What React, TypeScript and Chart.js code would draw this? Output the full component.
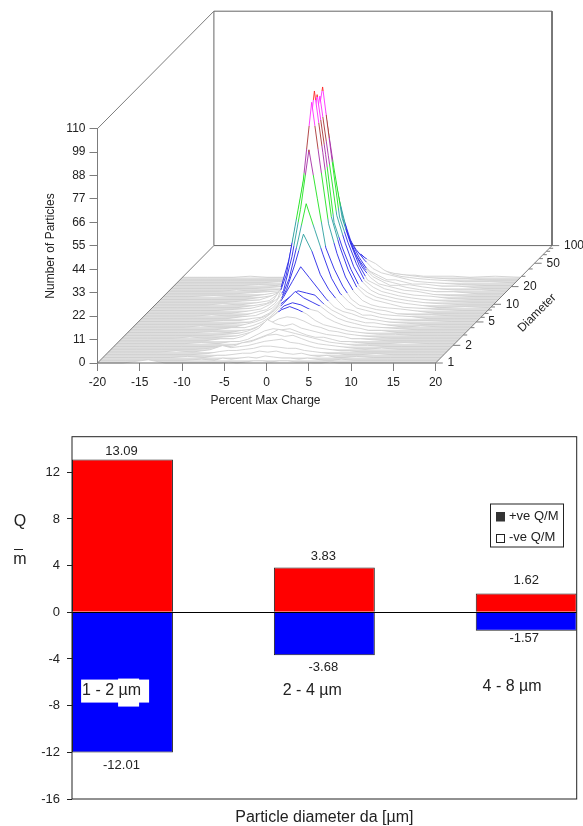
import React, { useEffect, useRef } from "react";
import { Chart, registerables } from "chart.js";

Chart.register(...registerables);

const FONT = "'Liberation Sans', Arial, sans-serif";

// ---- Waterfall data ----
const chargeBins = [-20, -17, -14, -12, -10, -8, -6.5, -5.5, -4.5, -3.5, -2.5, -1.5, -0.5, 0.5, 1.5, 2.5, 3.5, 4.5, 5.5, 6.5, 7.5, 8.5, 10, 12, 14, 17, 20];
// rows run front (small diameter) to back (large diameter)
const particleCounts = [
  [0, 0, 1.5, 0, 0, 0, 0, 0, 0.5, 0, 0.5, 1, 1, 0.5, 1, 1, 0.5, 0.5, 0, 0, 0.5, 0, 0, 0, 0, 0, 0],
  [0, 0, 0, 0, 0, 0.5, 0, 1, 0.5, 1, 1.5, 1, 2, 1.5, 1, 1, 0.5, 1, 0.5, 0, 0, 0.5, 0, 0, 0, 0, 0],
  [0, 0, 0, 0, 0.5, 0, 1, 1, 1.5, 2, 2, 3, 2.5, 3, 2, 1.5, 2, 1, 0.5, 1, 0, 0, 0.5, 0, 0, 0, 0],
  [0, 0, 0, 0, 0, 0.5, 1.5, 2, 2, 2.5, 3, 4, 4, 3.5, 3, 3, 2, 1.5, 1, 0.5, 0.5, 0, 0, 0.5, 0, 0, 0],
  [0, 0, 0, 0.5, 0, 1, 3, 2, 2.5, 3, 4, 5, 5.5, 6, 4.5, 4, 3, 2, 1.5, 1, 0.5, 0.5, 0, 0, 0, 0, 0],
  [0, 0, 0, 0, 0, 0.5, 1, 1.5, 3, 3.5, 5, 6.5, 7, 6, 6.5, 5, 3.5, 2.5, 2, 1.5, 1, 0.5, 0, 0.5, 0, 0, 0],
  [0, 0, 0, 0, 0, 0, 0.5, 1, 2, 3, 4.5, 6, 8, 7, 6, 5, 4, 3, 2, 1.5, 1, 0.5, 0.5, 0, 0, 0, 0],
  [0, 0, 0, 0, 0.5, 0, 1, 1, 2, 4, 6, 7, 6.5, 7, 5.5, 4, 3, 3, 2, 1, 1, 0.5, 0, 0, 0.5, 0, 0],
  [0, 0, 0, 0, 0, 1, 1, 2, 4, 6, 10, 8, 7, 8, 6, 5, 4, 3, 2.5, 2, 1, 1, 0.5, 0, 0, 0, 0],
  [0, 0, 0, 0.5, 0, 0.5, 1, 2, 3, 5, 7, 9, 10, 9.5, 8, 6, 5, 3.5, 3, 2, 1.5, 1, 0.5, 0, 0, 0, 0],
  [0, 0, 0, 0, 0, 0.5, 1, 2, 3.5, 6, 9, 12, 13.5, 12, 10, 7, 5, 4, 3, 2, 1.5, 1, 0.5, 0.5, 0, 0, 0],
  [0, 0, 0, 0, 0.5, 0, 1, 1.5, 3, 5.5, 9, 12.5, 14, 13, 11, 10, 7, 5, 3.5, 2.5, 2, 1, 1, 0, 0, 0, 0],
  [0, 0, 0, 0, 0, 1, 1, 2, 3.5, 6, 10, 14, 18, 15, 13, 11, 8, 5.5, 4, 3, 2, 1.5, 1, 0.5, 0, 0, 0],
  [0, 0, 0, 0.5, 0, 0, 1.5, 2.5, 4, 7, 11, 14, 17, 16, 15, 11, 8, 6, 4, 3, 2, 2, 1, 0, 0.5, 0, 0],
  [0, 0, 0, 0, 0, 0.5, 1, 2.5, 4, 7, 13, 20, 27, 22, 17, 12, 8, 6, 5, 3.5, 2.5, 2, 1, 0.5, 0, 0, 0],
  [0, 0, 0, 0, 0.5, 0.5, 1.5, 2, 4, 8, 15, 27, 41, 33, 22, 15, 10, 6, 5, 3, 3, 2, 1, 0.5, 0.5, 0, 0],
  [0, 0, 0, 0, 0, 1, 1.5, 3, 5, 9, 19, 36, 54, 42, 30, 19, 12, 8, 5, 4, 3, 2, 1.5, 1, 0, 0, 0],
  [0, 0, 0, 0.5, 0, 0.5, 2, 3, 6, 12, 28, 50, 78, 55, 32, 22, 14, 8, 5, 4, 3, 2.5, 1, 0.5, 0.5, 0, 0],
  [0, 0, 0, 0, 0, 1, 2, 4, 7, 18, 40, 62, 99, 70, 42, 28, 17, 10, 6, 4, 3, 2.5, 2, 1, 0, 0, 0],
  [0, 0, 0, 0, 0.5, 1, 2.5, 4, 10, 24, 44, 68, 103, 74, 44, 30, 19, 11, 7, 5, 4, 3, 1.5, 1, 0.5, 0, 0],
  [0, 0, 0, 0, 0, 1, 2, 4, 10, 22, 42, 72, 100, 72, 40, 28, 18, 10, 7, 5, 4, 3, 2, 1, 0, 0.5, 0],
  [0, 0, 0, 0.5, 0, 1, 2, 5, 10, 22, 44, 74, 98, 70, 42, 29, 18, 11, 7, 5, 4, 3, 2, 1, 0.5, 0, 0],
  [0, 0, 0, 0, 0.5, 1, 3, 5, 11, 22, 44, 76, 101, 70, 40, 28, 18, 10, 7, 5, 4, 3, 2, 1, 0.5, 0, 0],
  [0, 0, 0, 0, 0, 1, 2, 5, 10, 20, 40, 66, 88, 62, 38, 26, 16, 9, 7, 5, 4, 3, 2, 1.5, 0.5, 0, 0],
  [0, 0, 0.5, 0, 0, 1, 2, 4, 9, 16, 32, 50, 72, 52, 32, 22, 14, 9, 6, 5, 4, 3, 2.5, 1, 0.5, 0, 0],
  [0, 0, 0, 0, 0.5, 1, 1.5, 3, 6, 12, 24, 42, 60, 44, 28, 18, 12, 8, 6, 4, 4, 3, 2, 1, 1, 0, 0],
  [0, 0, 0, 0.5, 0, 0.5, 1, 2, 5, 9, 18, 32, 50, 36, 24, 16, 10, 7, 5, 4, 3, 3, 2, 1, 0.5, 0.5, 0],
  [0, 0, 0, 0, 0, 0.5, 1, 2, 4, 7, 13, 24, 39, 28, 18, 12, 8, 6, 4, 4, 3, 2, 2, 1, 1, 0, 0],
  [0, 0, 0, 0, 0.5, 0, 1, 1.5, 3, 5, 9, 16, 28, 23, 17, 12, 8, 6, 5, 4, 3, 2, 1.5, 1, 0.5, 0, 0],
  [0, 0, 0, 0, 0, 0.5, 0.5, 1, 2, 3, 6, 10, 20, 17, 14, 11, 9, 6, 4, 3, 2.5, 2, 1.5, 1, 0.5, 0.5, 0],
  [0, 0, 0, 0, 0, 0, 0.5, 0.5, 1, 2, 3, 5, 8, 9, 12, 8, 5, 4, 3, 2.5, 2, 1.5, 1, 0.5, 0.5, 0, 0],
  [0, 0, 0, 0.5, 0, 0, 0.5, 1, 1, 1.5, 2, 2, 3, 3, 4, 3, 2, 2, 1.5, 1, 1, 0.5, 0.5, 0.5, 0, 0.5, 0],
];
const lastRowDepth = 0.73;
const chargeTicks = [-20, -15, -10, -5, 0, 5, 10, 15, 20];
const countTicks = [0, 11, 22, 33, 44, 55, 66, 77, 88, 99, 110];
const diameterMajor = [1, 2, 5, 10, 20, 50, 100];
const diameterMinor = [3, 4, 6, 7, 8, 9, 30, 40, 60, 70, 80, 90];
const colorBands: [number, number, string][] = [
  [0, 11, "#cdcdcd"],
  [11, 33, "#1a1ae6"],
  [33, 44, "#1f9a9a"],
  [44, 66, "#12e012"],
  [66, 77, "#a020a0"],
  [77, 88, "#a52a2a"],
  [88, 99, "#ff20ff"],
  [99, 110, "#ff2020"],
];

// ---- Bar chart data ----
const sizeClasses = ["1 - 2 \u00b5m", "2 - 4 \u00b5m", "4 - 8 \u00b5m"];
const positions = [0, 1, 2];
const positiveQM = [13.09, 3.83, 1.62];
const negativeQM = [-12.01, -3.68, -1.57];
const qmTicks = [-16, -12, -8, -4, 0, 4, 8, 12];

// Oblique projection of the 3D box onto the chart's two linear scales
const X_MIN = -20, X_MAX = 20, Z_MAX = 110;
const SHIFT_X = 13.77;
const SHIFT_Z = 55.1;
const proj = (x: number, depth: number, z: number) => ({ x: x + depth * SHIFT_X, y: z + depth * SHIFT_Z });
const depthOf = (d: number) => Math.log10(d) / 2;

const edge = (pts: { x: number; y: number }[], color = "#7c7c7c", order = 0, width = 1) => ({
  type: "line",
  data: pts,
  borderColor: color,
  borderWidth: width,
  pointRadius: 0,
  tension: 0,
  fill: false,
  clip: false,
  order,
});

function bandGradient(ctx: any, base: number) {
  const chart = ctx.chart;
  const ys = chart.scales.y;
  const y0 = ys ? ys.getPixelForValue(base) : NaN;
  const y1 = ys ? ys.getPixelForValue(base + Z_MAX) : NaN;
  if (!Number.isFinite(y0) || !Number.isFinite(y1)) return colorBands[0][2];
  const g = chart.ctx.createLinearGradient(0, y0, 0, y1);
  colorBands.forEach(([a, b, c]) => {
    g.addColorStop(a / Z_MAX, c);
    g.addColorStop(b / Z_MAX, c);
  });
  return g;
}

const waterfallText = {
  id: "waterfallText",
  afterDraw(chart: any) {
    const { ctx, scales } = chart;
    ctx.save();
    ctx.fillStyle = "#222";
    ctx.font = `12px ${FONT}`;
    ctx.textBaseline = "middle";
    ctx.textAlign = "center";
    ctx.fillText("Percent Max Charge", 265.5, 401);
    ctx.save();
    ctx.translate(50.5, 246);
    ctx.rotate(-Math.PI / 2);
    ctx.fillText("Number of Particles", 0, 0);
    ctx.restore();
    ctx.save();
    ctx.translate(537, 313);
    ctx.rotate(-Math.PI / 4);
    ctx.fillText("Diameter", 0, 0);
    ctx.restore();
    ctx.textAlign = "left";
    diameterMajor.forEach((d) => {
      const p = proj(X_MAX, depthOf(d), 0);
      ctx.fillText(String(d), scales.x.getPixelForValue(p.x) + 12, scales.y.getPixelForValue(p.y));
    });
    ctx.restore();
  },
};

const labelOffsets = [
  [-8, 13],
  [-11.5, 12],
  [-12.5, 8],
];
const labelPositions = [
  [-0.2, -6.75],
  [0.794, -6.75],
  [1.784, -6.35],
];

const barText = {
  id: "barText",
  afterDraw(chart: any) {
    const { ctx, scales, chartArea: a } = chart;
    const X = scales.x, Y = scales.y;
    ctx.save();
    // frame
    ctx.strokeStyle = "#222";
    ctx.lineWidth = 1;
    ctx.strokeRect(a.left, a.top, a.right - a.left, a.bottom - a.top);
    ctx.fillStyle = "#222";
    ctx.textBaseline = "middle";
    ctx.textAlign = "center";
    ctx.font = `13px ${FONT}`;
    positiveQM.forEach((v, i) => {
      ctx.fillText(v.toFixed(2), X.getPixelForValue(i) - (i === 2 ? 0 : 1), Y.getPixelForValue(v) + labelOffsets[i][0]);
    });
    negativeQM.forEach((v, i) => {
      ctx.fillText(v.toFixed(2), X.getPixelForValue(i) - (i === 2 ? 2 : 1), Y.getPixelForValue(v) + labelOffsets[i][1]);
    });
    // size class captions
    sizeClasses.forEach((label, i) => {
      const px = X.getPixelForValue(labelPositions[i][0]);
      const py = Y.getPixelForValue(labelPositions[i][1]);
      if (i === 0) {
        ctx.fillStyle = "#fff";
        ctx.fillRect(px - 1, py - 11.5, 68, 23);
        ctx.fillRect(px + 36, py - 12.5, 21, 28);
      }
      ctx.fillStyle = "#222";
      ctx.textAlign = "left";
      ctx.font = `16px ${FONT}`;
      ctx.fillText(label, px, py);
    });
    // legend box
    const lx = 490.5, ly = 84, lw = 73, lh = 43;
    ctx.fillStyle = "#fff";
    ctx.fillRect(lx, ly, lw, lh);
    ctx.strokeStyle = "#222";
    ctx.strokeRect(lx, ly, lw, lh);
    ctx.fillStyle = "#333";
    ctx.fillRect(496, 92, 9, 9.5);
    ctx.fillStyle = "#fff";
    ctx.strokeRect(496.5, 114.5, 8, 8);
    ctx.fillStyle = "#222";
    ctx.font = `13px ${FONT}`;
    ctx.textAlign = "left";
    ctx.fillText(chart.data.datasets[0].label, 509, 96);
    ctx.fillText(chart.data.datasets[1].label, 509, 117);
    // y title
    ctx.textAlign = "center";
    ctx.font = `16px ${FONT}`;
    ctx.fillText("Q", 20, 102);
    ctx.fillText("m", 20, 140);
    ctx.beginPath();
    ctx.moveTo(14, 129.5);
    ctx.lineTo(23, 129.5);
    ctx.stroke();
    ctx.restore();
  },
};

export default function App() {
  const topRef = useRef<HTMLCanvasElement>(null);
  const botRef = useRef<HTMLCanvasElement>(null);

  useEffect(() => {
    const rowCount = particleCounts.length;
    const curves = particleCounts.map((row, i) => {
      const depth = (i / (rowCount - 1)) * lastRowDepth;
      const base = depth * SHIFT_Z;
      return {
        type: "line",
        label: `row ${i + 1}`,
        data: row.map((z, j) => proj(chargeBins[j], depth, z)),
        borderColor: (ctx: any) => bandGradient(ctx, base),
        borderWidth: 0.85,
        pointRadius: 0,
        tension: 0,
        fill: { value: base },
        backgroundColor: "#fff",
        clip: false,
        order: 5,
      };
    });

    const floor = {
      type: "line",
      data: [
        proj(X_MIN, 0, 0),
        proj(X_MAX, 0, 0),
        proj(X_MAX, lastRowDepth, 0),
        proj(X_MIN, lastRowDepth, 0),
        proj(X_MIN, 0, 0),
      ],
      borderWidth: 0,
      pointRadius: 0,
      tension: 0,
      fill: "shape",
      backgroundColor: "#dedede",
      order: 6,
    };

    const frontEdges = [
      edge([proj(X_MIN, 0, 0), proj(X_MAX, 0, 0)], "#666", 1),
      edge([proj(X_MIN, 0, 0), proj(X_MIN, 1, 0)], "#7c7c7c", 1),
      edge([proj(X_MAX, 0, 0), proj(X_MAX, 1, 0)], "#7c7c7c", 1),
      edge([proj(X_MIN, 0, 0), proj(X_MIN, 0, Z_MAX), proj(X_MIN, 1, Z_MAX)], "#7c7c7c", 1),
    ];
    const wall = edge(
      [proj(X_MIN, 1, 0), proj(X_MIN, 1, Z_MAX), proj(X_MAX, 1, Z_MAX), proj(X_MAX, 1, 0), proj(X_MIN, 1, 0)],
      "#666",
      7
    );
    const majorTicks = diameterMajor.map((d) =>
      edge([proj(X_MAX, depthOf(d), 0), proj(X_MAX + 0.85, depthOf(d), 0)], "#7c7c7c", 1)
    );
    const minorTicks = diameterMinor.map((d) =>
      edge([proj(X_MAX, depthOf(d), 0), proj(X_MAX + 0.45, depthOf(d), 0)], "#7c7c7c", 1)
    );

    const top = new Chart(topRef.current as any, {
      type: "line",
      data: { datasets: [...frontEdges, ...majorTicks, ...minorTicks, ...curves, floor, wall] as any },
      options: {
        animation: false,
        responsive: false,
        devicePixelRatio: 1,
        layout: { padding: { left: 0, right: 31, top: 10, bottom: 0 } },
        plugins: { legend: { display: false }, tooltip: { enabled: false }, filler: { drawTime: "beforeDatasetDraw" } },
        scales: {
          x: {
            type: "linear",
            min: X_MIN,
            max: X_MAX + SHIFT_X,
            afterBuildTicks: (axis: any) => {
              axis.ticks = chargeTicks.map((value) => ({ value }));
            },
            afterFit: (s: any) => {
              s.height = 57;
            },
            ticks: { autoSkip: false, maxRotation: 0, padding: 4, color: "#222", font: { family: FONT, size: 12 }, callback: (v: any) => String(v) },
            grid: { drawOnChartArea: false, color: "#7c7c7c", tickLength: 8 },
            border: { display: false },
          },
          y: {
            type: "linear",
            min: 0,
            max: Z_MAX + SHIFT_Z,
            afterBuildTicks: (axis: any) => {
              axis.ticks = countTicks.map((value) => ({ value }));
            },
            afterFit: (s: any) => {
              s.width = 97.5;
            },
            ticks: { autoSkip: false, padding: 4, color: "#222", font: { family: FONT, size: 12 }, callback: (v: any) => String(v) },
            grid: { drawOnChartArea: false, color: "#7c7c7c", tickLength: 8 },
            border: { display: false },
          },
        },
      } as any,
      plugins: [waterfallText],
    });

    const bot = new Chart(botRef.current as any, {
      type: "bar",
      data: {
        datasets: [
          {
            label: "+ve Q/M",
            data: positiveQM.map((y, i) => ({ x: positions[i], y })),
            backgroundColor: "#ff0000",
            borderColor: "#222",
            borderWidth: 1,
            grouped: false,
            barPercentage: 0.5,
            categoryPercentage: 1,
          },
          {
            label: "-ve Q/M",
            data: negativeQM.map((y, i) => ({ x: positions[i], y })),
            backgroundColor: "#0000ff",
            borderColor: "#222",
            borderWidth: 1,
            grouped: false,
            barPercentage: 0.5,
            categoryPercentage: 1,
          },
        ] as any,
      },
      options: {
        animation: false,
        responsive: false,
        devicePixelRatio: 1,
        layout: { padding: { left: 0, right: 6.3, top: 16.7, bottom: 0 } },
        plugins: { legend: { display: false }, tooltip: { enabled: false } },
        scales: {
          x: {
            type: "linear",
            offset: false,
            min: -0.25,
            max: 2.25,
            afterBuildTicks: (axis: any) => {
              axis.ticks = positions.map((value) => ({ value }));
            },
            afterFit: (s: any) => {
              s.height = 27;
            },
            ticks: { display: false },
            grid: { display: false },
            border: { display: false },
            title: {
              display: true,
              text: "Particle diameter da [\u00b5m]",
              color: "#222",
              padding: 0,
              font: { family: FONT, size: 16, lineHeight: 1 },
            },
          },
          y: {
            type: "linear",
            min: -16,
            max: 15.05,
            afterBuildTicks: (axis: any) => {
              axis.ticks = qmTicks.map((value) => ({ value }));
            },
            afterFit: (s: any) => {
              s.width = 72;
            },
            ticks: { autoSkip: false, padding: 7, color: "#222", font: { family: FONT, size: 13 }, callback: (v: any) => String(v) },
            grid: {
              z: 1,
              color: (c: any) => (c.tick && c.tick.value === 0 ? "#000" : "rgba(0,0,0,0)"),
              tickColor: "#222",
              tickLength: 5,
            },
            border: { display: false },
          },
        },
      } as any,
      plugins: [barText],
    });

    return () => {
      top.destroy();
      bot.destroy();
    };
  }, []);

  return (
    <div style={{ position: "absolute", left: 0, top: 0, width: 583, height: 826, background: "#fff", overflow: "hidden" }}>
      <canvas ref={topRef} width={583} height={420} style={{ position: "absolute", left: 0, top: 0, display: "block" }} />
      <canvas ref={botRef} width={583} height={406} style={{ position: "absolute", left: 0, top: 420, display: "block" }} />
    </div>
  );
}
